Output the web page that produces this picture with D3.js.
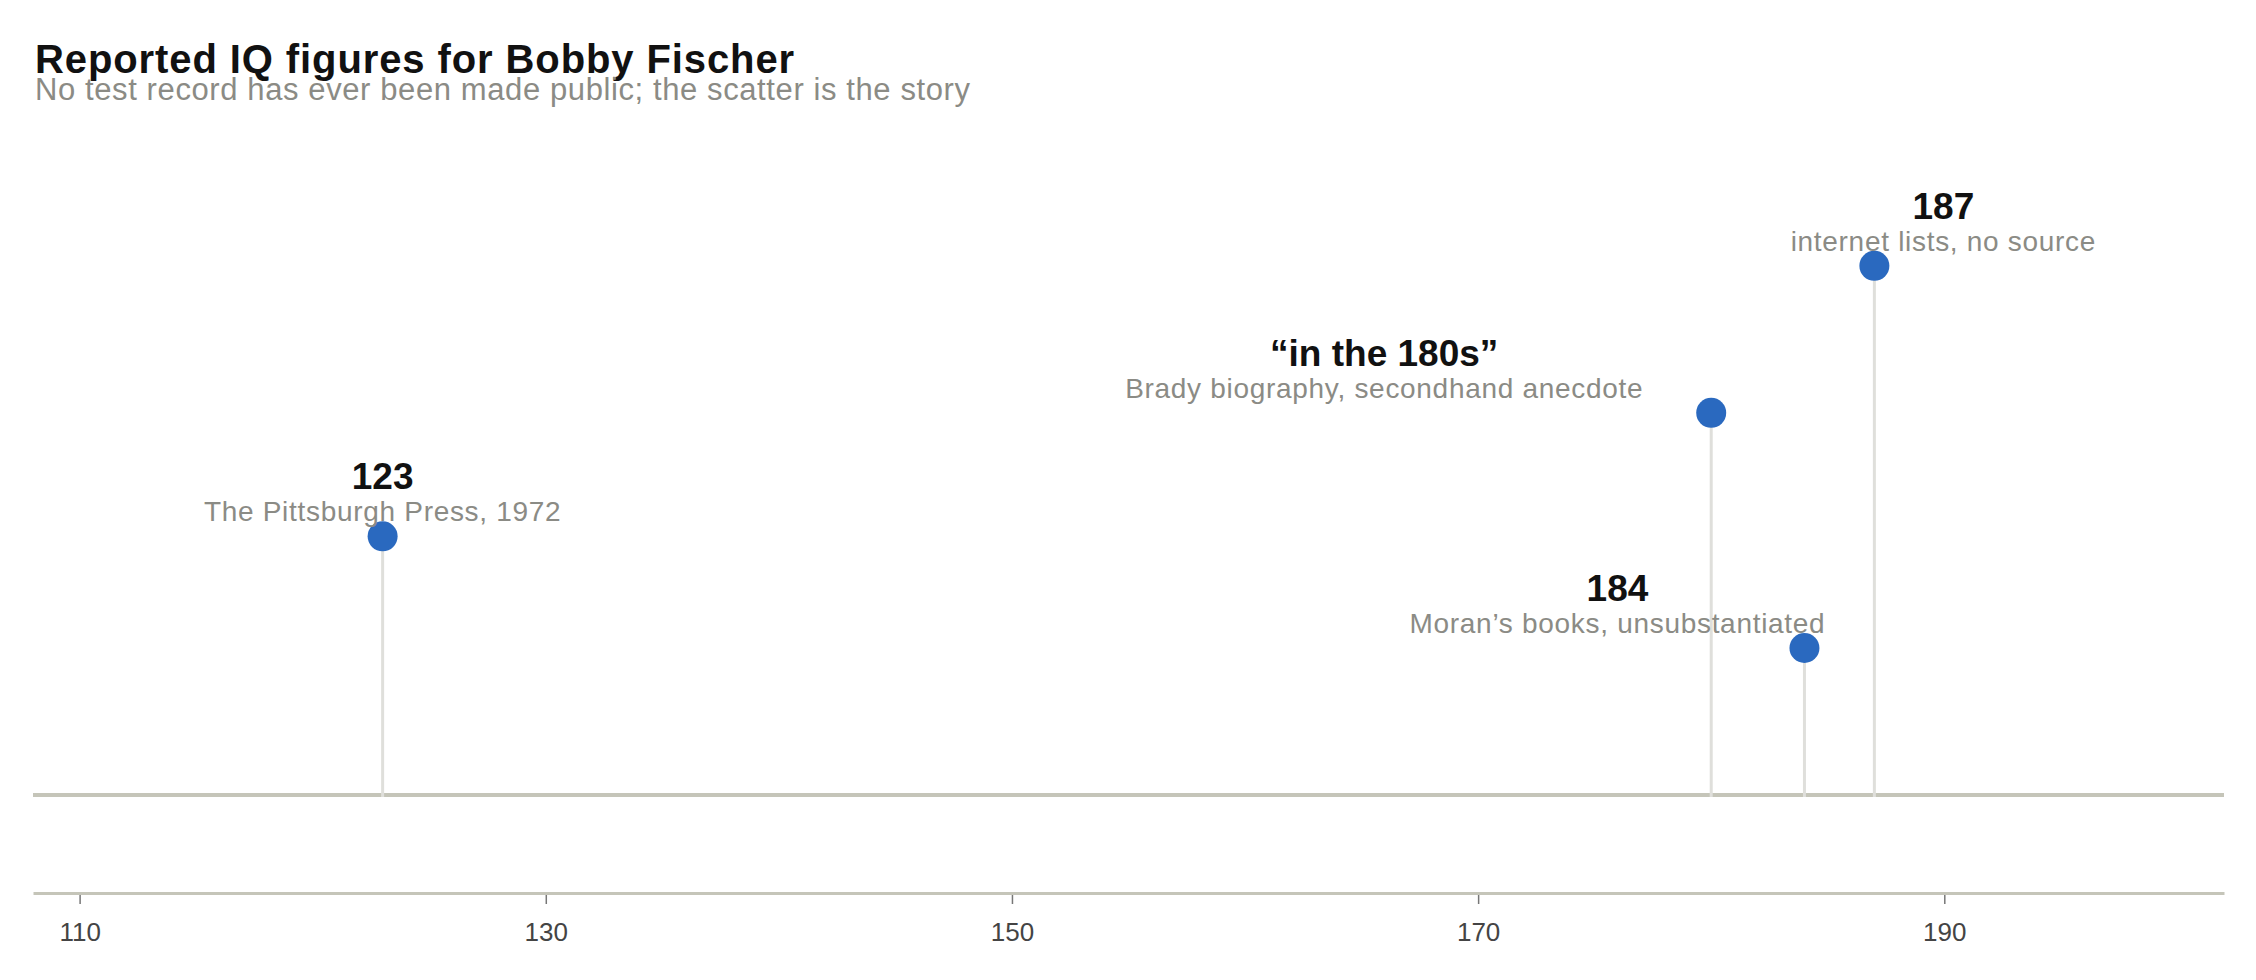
<!DOCTYPE html>
<html>
<head>
<meta charset="utf-8">
<script src="https://cdn.jsdelivr.net/npm/d3@7"></script>
<style>
  html, body { margin: 0; padding: 0; background: #fff; }
  svg { display: block; font-family: "Liberation Sans", Arial, Helvetica, sans-serif; }
</style>
</head>
<body>
<svg id="chart"></svg>
<script>
// reported figures
const labels = ["123", "\u201cin the 180s\u201d", "184", "187"];
const iqValues = [123, 180, 184, 187];
const sources = [
    "The Pittsburgh Press, 1972",
    "Brady biography, secondhand anecdote",
    "Moran\u2019s books, unsubstantiated",
    "internet lists, no source"
];
// vertical lane of each lollipop (0 = baseline, 1 = top)
const lanes = [0.44, 0.65, 0.25, 0.9];
const tickValues = [110, 130, 150, 170, 190];

const width = 2256, height = 980;

const svg = d3.select("#chart")
    .attr("width", width)
    .attr("height", height);

svg.append("rect")
    .attr("width", width)
    .attr("height", height)
    .attr("fill", "white");

const x = d3.scaleLinear()
    .domain([108, 202])
    .range([33, 2224]);

const y = d3.scaleLinear()
    .domain([0, 1])
    .range([795, 207]);

// title block
svg.append("text")
    .attr("x", 35)
    .attr("y", 73)
    .style("font-size", "40px")
    .style("font-weight", "bold")
    .style("letter-spacing", "0.9px")
    .attr("fill", "#111")
    .text("Reported IQ figures for Bobby Fischer");

svg.append("text")
    .attr("x", 35)
    .attr("y", 100)
    .style("font-size", "31px")
    .style("letter-spacing", "0.6px")
    .attr("fill", "#8b8b85")
    .text("No test record has ever been made public; the scatter is the story");

// baseline the stems stand on
svg.append("line")
    .attr("x1", x.range()[0])
    .attr("x2", x.range()[1])
    .attr("y1", y(0))
    .attr("y2", y(0))
    .attr("stroke", "#c5c5b9")
    .attr("stroke-width", 4);

const data = iqValues.map((v, i) => ({
    iq: v,
    label: labels[i],
    source: sources[i],
    lane: lanes[i]
}));

// label shift in px so the captions don't collide
const labelShift = { "123": 0, "\u201cin the 180s\u201d": -327, "184": -187, "187": 69 };

const pts = svg.append("g").selectAll("g")
    .data(data)
    .enter().append("g");

pts.append("line")
    .attr("x1", d => x(d.iq))
    .attr("x2", d => x(d.iq))
    .attr("y1", d => y(d.lane))
    .attr("y2", y(0) + 2)
    .attr("stroke", "#dfdfdb")
    .attr("stroke-width", 3);

pts.append("circle")
    .attr("cx", d => x(d.iq))
    .attr("cy", d => y(d.lane))
    .attr("r", 15)
    .attr("fill", "#2a69bf");

pts.append("text")
    .attr("x", d => x(d.iq) + labelShift[d.label])
    .attr("y", d => y(d.lane) - 47)
    .attr("text-anchor", "middle")
    .style("font-size", "37px")
    .style("font-weight", "bold")
    .attr("fill", "#111")
    .text(d => d.label);

pts.append("text")
    .attr("x", d => x(d.iq) + labelShift[d.label])
    .attr("y", d => y(d.lane) - 15)
    .attr("text-anchor", "middle")
    .style("font-size", "28px")
    .style("letter-spacing", "0.7px")
    .attr("fill", "#8b8b85")
    .text(d => d.source);

// bottom axis
const axis = svg.append("g")
    .attr("transform", "translate(0,893)")
    .call(d3.axisBottom(x).tickValues(tickValues).tickSize(9).tickSizeOuter(0));

axis.select(".domain")
    .attr("stroke", "#c5c5b9")
    .attr("stroke-width", 3);

axis.selectAll(".tick line")
    .attr("y1", 2)
    .attr("y2", 11)
    .attr("stroke", "#777")
    .attr("stroke-width", 1.5);

axis.selectAll(".tick text")
    .attr("y", 48)
    .attr("dy", 0)
    .attr("fill", "#444")
    .style("font-size", "26px")
    .style("font-family", "\"Liberation Sans\", Arial, Helvetica, sans-serif");
</script>
</body>
</html>
